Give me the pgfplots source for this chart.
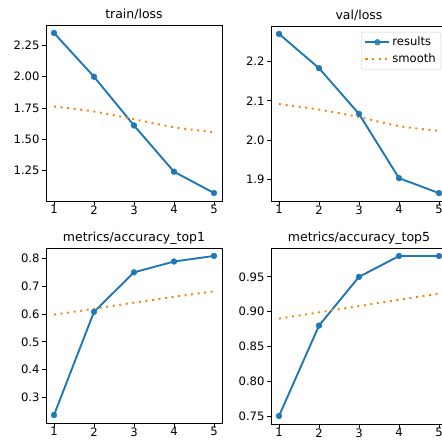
\documentclass[border=0pt]{standalone}
\usepackage{fontspec}
\setmainfont{DejaVu Sans}
\usepackage{pgfplots}
\pgfplotsset{compat=1.18}
\definecolor{tabblue}{HTML}{1F77B4}
\definecolor{taborange}{HTML}{FF7F0E}

\pgfplotsset{
  panel/.style={
    scale only axis, width=176pt, height=176pt,
    xmin=0.8, xmax=5.2, xtick={1,2,3,4,5},
    tick align=outside, xtick pos=bottom, ytick pos=left,
    major tick length=4pt,
    tick style={black, line width=0.8pt},
    axis line style={line width=0.8pt},
    /pgf/number format/assume math mode=true,
    ticklabel style={font=\fontsize{11.6}{13}\selectfont},
    xticklabel style={yshift=3pt},
    yticklabel style={xshift=1pt},
    every axis title/.style={font=\fontsize{12.5}{15}\selectfont, at={(0.5,1)}, anchor=base, yshift=6pt},
    scaled y ticks=false,
  },
  res/.style={tabblue, line width=1.9pt, mark=*, mark size=2.9pt, mark options={line width=0.4pt}},
  smo/.style={taborange, line width=1.9pt, dash pattern=on 2pt off 4.6pt, smooth},
}

\begin{document}
\begin{tikzpicture}

% train/loss
\begin{axis}[panel, at={(46pt,240pt)}, anchor=south west,
  title={train/loss}, ymin=1.006, ymax=2.414,
  ytick={1.25,1.5,1.75,2,2.25},
  yticklabel style={/pgf/number format/.cd, fixed, fixed zerofill, precision=2}]
\addplot[res] coordinates {(1,2.35) (2,2.00) (3,1.61) (4,1.24) (5,1.07)};
\addplot[smo] coordinates {(1,1.762) (2,1.722) (3,1.660) (4,1.596) (5,1.556)};
\end{axis}

% val/loss
\begin{axis}[panel, at={(271pt,240pt)}, anchor=south west, height=175pt,
  title={val/loss}, ymin=1.846, ymax=2.290,
  ytick={1.9,2.0,2.1,2.2},
  yticklabel style={/pgf/number format/.cd, fixed, fixed zerofill, precision=1},
  legend style={at={(0.966,0.966)}, anchor=north east, draw=black!20,
    rounded corners=2pt, fill=white, fill opacity=0.8, text opacity=1,
    font=\fontsize{11.6}{13}\selectfont, row sep=2.5pt, inner sep=3pt},
  legend cell align=left,
  legend image code/.code={\draw[mark repeat=2, mark phase=2] plot coordinates {(0pt,0pt) (12pt,0pt) (24pt,0pt)};}]
\addplot[res] coordinates {(1,2.270) (2,2.183) (3,2.067) (4,1.904) (5,1.866)};
\addlegendentry{results}
\addplot[smo] coordinates {(1,2.092) (2,2.078) (3,2.059) (4,2.036) (5,2.024)};
\addlegendentry{smooth}
\end{axis}

% metrics/accuracy_top1
\begin{axis}[panel, at={(46pt,18pt)}, anchor=south west, height=175pt,
  title={metrics/accuracy\_top1}, ymin=0.2084, ymax=0.8376,
  ytick={0.3,0.4,0.5,0.6,0.7,0.8},
  yticklabel style={/pgf/number format/.cd, fixed, fixed zerofill, precision=1}]
\addplot[res] coordinates {(1,0.237) (2,0.608) (3,0.750) (4,0.789) (5,0.809)};
\addplot[smo] coordinates {(1,0.598) (2,0.619) (3,0.641) (4,0.662) (5,0.682)};
\end{axis}

% metrics/accuracy_top5
\begin{axis}[panel, at={(271pt,17pt)}, anchor=south west,
  title={metrics/accuracy\_top5}, ymin=0.7385, ymax=0.9915,
  ytick={0.75,0.8,0.85,0.9,0.95},
  yticklabel style={/pgf/number format/.cd, fixed, fixed zerofill, precision=2}]
\addplot[res] coordinates {(1,0.750) (2,0.880) (3,0.950) (4,0.980) (5,0.980)};
\addplot[smo] coordinates {(1,0.890) (2,0.899) (3,0.908) (4,0.917) (5,0.926)};
\end{axis}

\pgfresetboundingbox
\useasboundingbox (0pt,0pt) rectangle (441pt,441pt);
\end{tikzpicture}
\end{document}
